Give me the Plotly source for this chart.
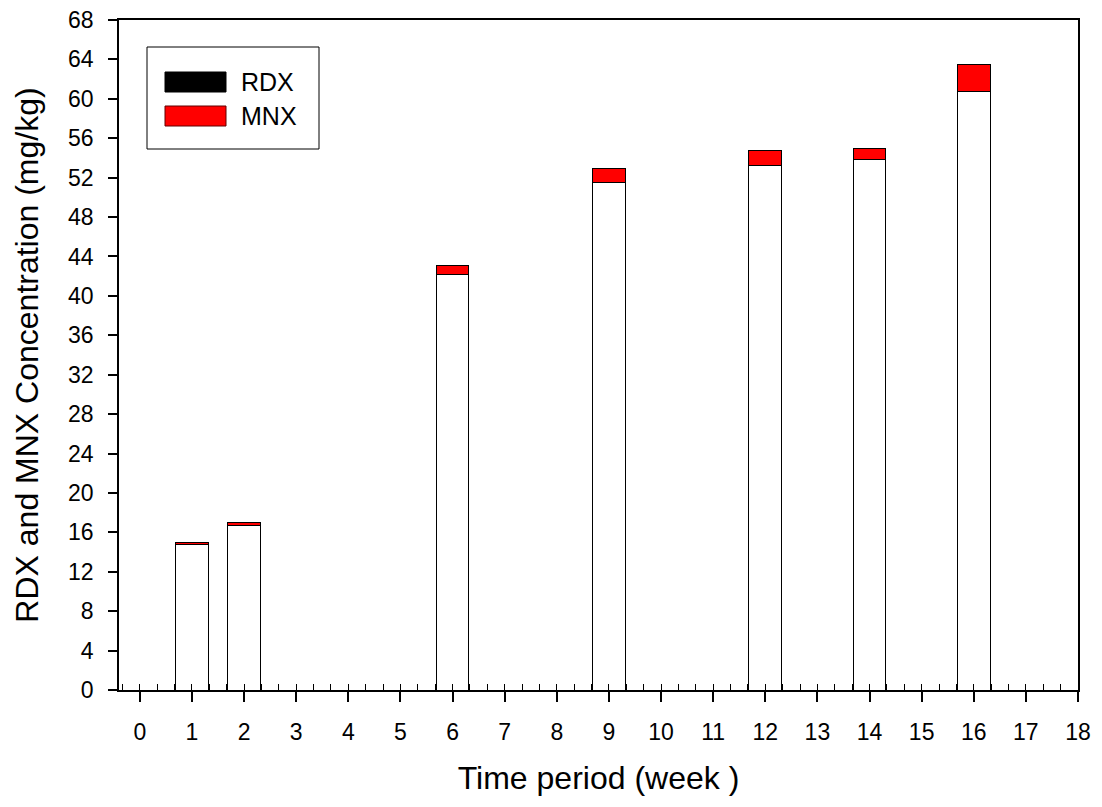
import plotly.graph_objects as go

# Data
weeks = [1, 2, 6, 9, 12, 14, 16]
rdx = [14.8, 16.7, 42.2, 51.5, 53.2, 53.8, 60.7]
mnx = [0.2, 0.3, 0.9, 1.4, 1.6, 1.2, 2.8]
x_ticks = list(range(0, 19))
y_ticks = list(range(0, 69, 4))

# page body has an 8px margin
OFF = 8
W, H = 1102 - 2 * OFF, 807 - 2 * OFF
L, R, T, B = 119, 1078, 20, 690  # plot area in page pixels

def px(x):
    return (x - L) / (R - L)

def py(y):
    return (B - y) / (B - T)

fig = go.Figure()
fig.add_trace(go.Bar(x=weeks, y=rdx, name="RDX", width=0.63,
                     marker=dict(color="white", line=dict(color="black", width=1)),
                     showlegend=False))
fig.add_trace(go.Bar(x=weeks, y=mnx, name="MNX", width=0.63,
                     marker=dict(color="#ff0000", line=dict(color="black", width=1)),
                     showlegend=False))

font = "Liberation Sans, Arial, sans-serif"

shapes = [
    dict(type="rect", xref="paper", yref="paper", x0=px(147), x1=px(319), y0=py(149), y1=py(47),
         line=dict(color="black", width=1), fillcolor="white", layer="above"),
    dict(type="rect", xref="paper", yref="paper", x0=px(165), x1=px(226), y0=py(92), y1=py(72),
         line=dict(color="black", width=1), fillcolor="black", layer="above"),
    dict(type="rect", xref="paper", yref="paper", x0=px(165), x1=px(226), y0=py(126), y1=py(106),
         line=dict(color="#600000", width=1), fillcolor="#ff0000", layer="above"),
]
annotations = [
    dict(text="RDX", xref="paper", yref="paper", x=px(239), y=py(82), xanchor="left", yanchor="middle",
         showarrow=False, font=dict(family=font, size=25, color="black")),
    dict(text="MNX", xref="paper", yref="paper", x=px(239), y=py(116), xanchor="left", yanchor="middle",
         showarrow=False, font=dict(family=font, size=25, color="black")),
]

fig.update_layout(
    width=W, height=H,
    margin=dict(l=L - OFF, r=W - (R - OFF), t=T - OFF, b=H - (B - OFF)),
    paper_bgcolor="white", plot_bgcolor="white",
    barmode="stack",
    font=dict(family=font, size=24, color="black"),
    showlegend=False,
    shapes=shapes,
    annotations=annotations,
    xaxis=dict(
        range=[-0.4, 18], tickmode="array", tickvals=x_ticks, ticktext=[str(v) for v in x_ticks],
        ticks="outside", ticklen=10, tickwidth=1.5, tickcolor="black",
        showline=True, linecolor="black", linewidth=1.5, mirror=True,
        showgrid=False, zeroline=False, automargin=False,
        minor=dict(ticks="inside", tick0=0, dtick=1/3, ticklen=6, tickwidth=1, tickcolor="black", showgrid=False),
        title=dict(text="Time period (week )", font=dict(size=32), standoff=22),
        tickfont=dict(size=23),
        ticklabelstandoff=11,
        ticklabeloverflow="allow",
    ),
    xaxis2=dict(
        overlaying="x", side="top", range=[-0.4, 18], showticklabels=False,
        tickmode="array", tickvals=[], ticks="", automargin=False,
        minor=dict(ticks="inside", tick0=0, dtick=1/3, ticklen=6, tickwidth=1, tickcolor="black", showgrid=False),
        showgrid=False, zeroline=False, showline=False,
    ),
    yaxis=dict(
        range=[0, 68], tickmode="array", tickvals=y_ticks, ticktext=[str(v) for v in y_ticks],
        ticks="outside", ticklen=9, tickwidth=1.5, tickcolor="black",
        showline=True, linecolor="black", linewidth=1.5, mirror=True,
        showgrid=False, zeroline=False, automargin=False,
        title=dict(text="RDX and MNX Concentration (mg/kg)", font=dict(size=32), standoff=20),
        tickfont=dict(size=23),
        ticklabelstandoff=10,
        ticklabeloverflow="allow",
    ),
)

fig.write_html("out.html")
